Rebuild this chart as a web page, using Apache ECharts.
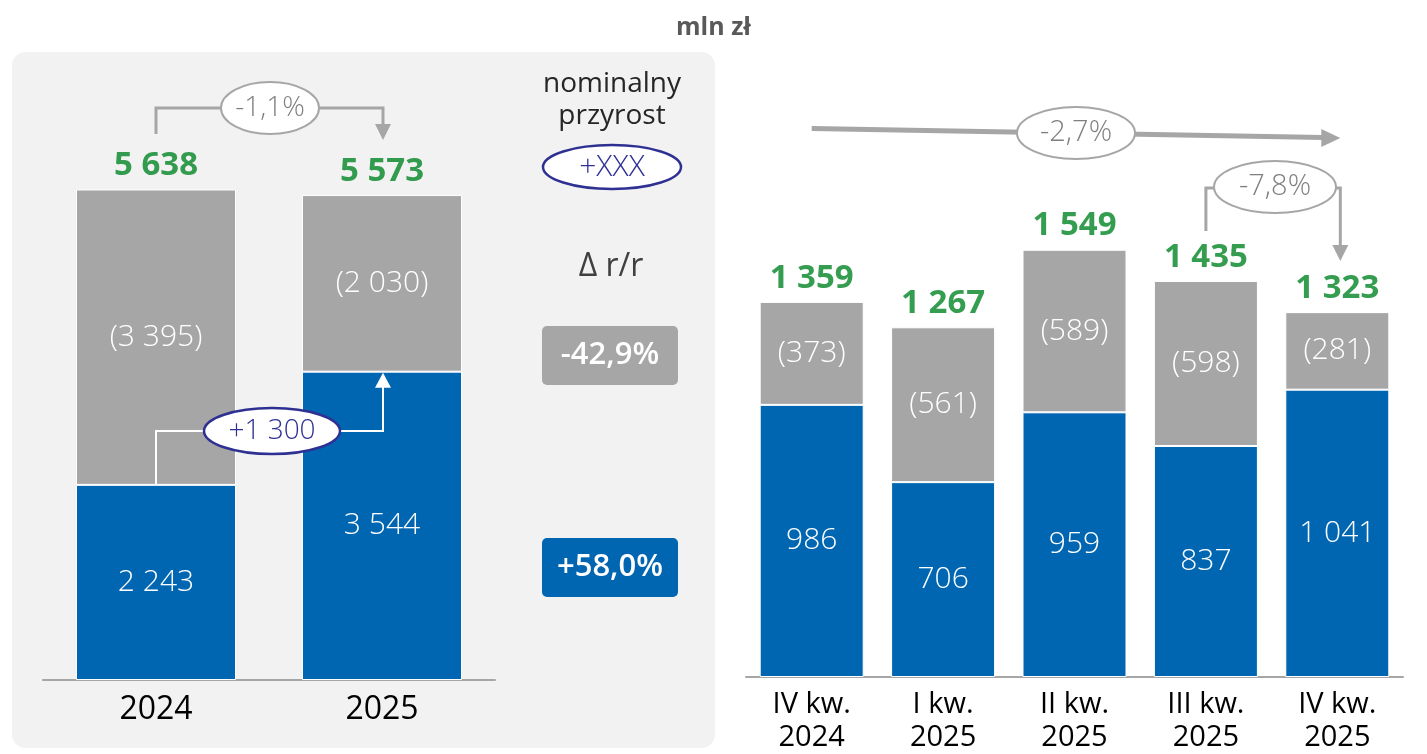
<!DOCTYPE html>
<html>
<head>
<meta charset="utf-8">
<script src="https://cdn.jsdelivr.net/npm/echarts@6/dist/echarts.min.js"></script>
<style>
html,body{margin:0;padding:0;background:#fff;}
#main{width:1427px;height:754px;}
</style>
</head>
<body>
<div id="main"></div>
<script>
// ---- data ----
const yearCats = ['2024', '2025'];
const yearBlue = [2243, 3544];
const yearGray = [3395, 2030];
const yearTotals = [5638, 5573];

const qCats = ['IV kw.\n2024', 'I kw.\n2025', 'II kw.\n2025', 'III kw.\n2025', 'IV kw.\n2025'];
const qBlue = [986, 706, 959, 837, 1041];
const qGray = [373, 561, 589, 598, 281];
const qTotals = [1359, 1267, 1549, 1435, 1323];

const unitTitle = 'mln zł';
const yearChangeText = '-1,1%';
const blueIncreaseText = '+1 300';
const qqChangeText = '-2,7%';
const lastQChangeText = '-7,8%';
const legendLines = ['nominalny', 'przyrost'];
const legendBadge = '+XXX';
const yoyTitle = 'Δ r/r';
const grayYoY = '-42,9%';
const blueYoY = '+58,0%';

// ---- styles ----
const FONT = 'Open Sans';
const CFONT = '"Open Sans", "Noto Sans", sans-serif';
const BLUE = '#0066B2';
const GRAY = '#A5A6A5';
const GREEN = '#038524';
const NAVY = '#2E3192';
const LINE = '#A6A6A6';

const fmt = v => String(v).replace(/\B(?=(\d{3})+(?!\d))/g, ' ');

const chart = echarts.init(document.getElementById('main'), null, {renderer: 'canvas'});

function barSeries(gi, data, color, width, labelFmt, size) {
  return {
    type: 'bar', xAxisIndex: gi, yAxisIndex: gi, stack: 's' + gi,
    data: data, barWidth: width,
    itemStyle: {color: color, borderColor: '#fff', borderWidth: 1},
    label: {show: true, position: 'inside', color: '#fff', fontSize: size,
      fontFamily: FONT, fontWeight: 300, formatter: p => labelFmt(p.value)},
    emphasis: {disabled: true}, animation: false, z: 3
  };
}
function totalSeries(gi, totals) {
  return {
    type: 'scatter', xAxisIndex: gi, yAxisIndex: gi,
    data: totals.map((t, i) => [i, t]), symbolSize: 0,
    itemStyle: {color: 'transparent'},
    label: {show: true, position: 'top', distance: 7, color: GREEN, fontSize: 33,
      fontWeight: 'bold', fontFamily: FONT, formatter: p => fmt(p.value[1])},
    emphasis: {disabled: true}, animation: false, z: 5
  };
}

const option = {
  backgroundColor: '#fff',
  animation: false,
  title: {text: unitTitle, left: 'center', top: 10,
    textStyle: {fontSize: 25, fontWeight: 'bold', color: '#595959', fontFamily: FONT}},
  grid: [
    {left: 43, width: 452, top: 158, bottom: 74},
    {left: 746, width: 657, top: 125, bottom: 74}
  ],
  xAxis: [
    {type: 'category', gridIndex: 0, data: yearCats,
      axisLine: {lineStyle: {color: LINE, width: 2}}, axisTick: {show: false},
      axisLabel: {color: '#000', fontSize: 32, fontFamily: FONT, fontWeight: 'normal', margin: 14}},
    {type: 'category', gridIndex: 1, data: qCats,
      axisLine: {lineStyle: {color: LINE, width: 2}}, axisTick: {show: false},
      axisLabel: {color: '#000', fontSize: 29, fontFamily: FONT, fontWeight: 'normal', margin: 11, lineHeight: 33}}
  ],
  yAxis: [
    {type: 'value', gridIndex: 0, min: 0, max: 6000, show: false, splitLine: {show: false}},
    {type: 'value', gridIndex: 1, min: 0, max: 2000, show: false, splitLine: {show: false}}
  ],
  series: [
    barSeries(0, yearBlue, BLUE, 160, v => fmt(v), 30),
    barSeries(0, yearGray, GRAY, 160, v => '(' + fmt(v) + ')', 30),
    totalSeries(0, yearTotals),
    barSeries(1, qBlue, BLUE, 104, v => fmt(v), 30),
    barSeries(1, qGray, GRAY, 104, v => '(' + fmt(v) + ')', 30),
    totalSeries(1, qTotals)
  ],
  graphic: [
    {type: 'rect', z: -10, silent: true,
      shape: {x: 12, y: 52, width: 703, height: 696, r: 14},
      style: {fill: '#F2F2F2'}}
  ]
};
chart.setOption(option);

// ---- annotations anchored to the axes ----
const P = (gi, c, v) => chart.convertToPixel({xAxisIndex: gi, yAxisIndex: gi}, [c, v]);
const x1 = P(0, 0, 0)[0], x2 = P(0, 1, 0)[0];
const blue1Top = P(0, 0, yearBlue[0])[1];
const blue2Top = P(0, 1, yearBlue[1])[1];
const xq4 = P(1, 3, 0)[0], xq5 = P(1, 4, 0)[0];
const xq1 = P(1, 0, 0)[0];

function txt(x, y, text, size, color, weight) {
  return {type: 'text', z: 101, x, y,
    style: {text, fill: color, font: (weight || 'normal') + ' ' + size + 'px ' + CFONT,
      align: 'center', verticalAlign: 'middle'}};
}
function ellipse(cx, cy, rx, ry, stroke, sw, text, color, size) {
  return [
    {type: 'ellipse', z: 100, shape: {cx, cy, rx, ry},
      style: {fill: '#fff', stroke: stroke, lineWidth: sw}},
    txt(cx, cy, text, size || 28, color, '300')
  ];
}
function box(x, y, w, h, fill, text) {
  return [
    {type: 'rect', z: 100, shape: {x, y, width: w, height: h, r: 5}, style: {fill}},
    txt(x + w / 2, y + h / 2, text, 31, '#fff', '600')
  ];
}
function arrowDown(x, yTip, color) {
  return {type: 'polygon', z: 99, shape: {points: [[x - 8, yTip - 16], [x + 8, yTip - 16], [x, yTip]]}, style: {fill: color}};
}
function arrowUp(x, yTip, color) {
  return {type: 'polygon', z: 99, shape: {points: [[x - 8, yTip + 15], [x + 8, yTip + 15], [x, yTip]]}, style: {fill: color}};
}

const ax2 = x2 + 1;
const cxL = (x1 + x2) / 2 + 1;
const g = [].concat(
  // -1,1% bracket
  [{type: 'polyline', z: 99, shape: {points: [[x1, 134], [x1, 108], [ax2, 108], [ax2, 125]]},
    style: {stroke: LINE, lineWidth: 3, fill: null}},
   arrowDown(ax2, 140, LINE)],
  ellipse(cxL, 108, 49, 26, LINE, 2, yearChangeText, '#7F7F7F', 28),
  // +1 300 connector
  [{type: 'polyline', z: 99, shape: {points: [[x1, blue1Top], [x1, 431], [ax2, 431], [ax2, blue2Top + 14]]},
    style: {stroke: '#fff', lineWidth: 2, fill: null}},
   arrowUp(ax2, blue2Top + 1, '#fff')],
  ellipse(cxL + 2, 431, 68, 23, NAVY, 2.5, blueIncreaseText, NAVY, 28),
  // legend column
  [txt(612, 84, legendLines[0], 28, '#262626'), txt(612, 116, legendLines[1], 28, '#262626')],
  ellipse(612, 167, 69, 22, NAVY, 2.5, legendBadge, NAVY, 30),
  [txt(611, 267, yoyTitle, 32, '#404040')],
  box(542, 326, 136, 59, GRAY, grayYoY),
  box(542, 538, 136, 59, BLUE, blueYoY),
  // -2,7% long arrow
  [{type: 'line', z: 99, shape: {x1: xq1, y1: 128.5, x2: xq5 - 14, y2: 137.5},
    style: {stroke: LINE, lineWidth: 5}},
   {type: 'polygon', z: 99, shape: {points: [[xq5 - 16, 129], [xq5 - 16, 147], [xq5 + 3, 138]]}, style: {fill: LINE}}],
  ellipse(1076, 133, 59, 26, LINE, 2, qqChangeText, '#7F7F7F', 29),
  // -7,8% bracket
  [{type: 'polyline', z: 99, shape: {points: [[xq4, 231], [xq4, 188], [1216, 188]]},
    style: {stroke: LINE, lineWidth: 3, fill: null}},
   {type: 'polyline', z: 99, shape: {points: [[1334, 188], [xq5 + 3, 188], [xq5 + 3, 246]]},
    style: {stroke: LINE, lineWidth: 3, fill: null}},
   arrowDown(xq5 + 3, 261, LINE)],
  ellipse(1275, 187, 61, 26, LINE, 2, lastQChangeText, '#7F7F7F', 29)
);

chart.setOption({graphic: option.graphic.concat(g)}, {replaceMerge: []});
</script>
</body>
</html>
